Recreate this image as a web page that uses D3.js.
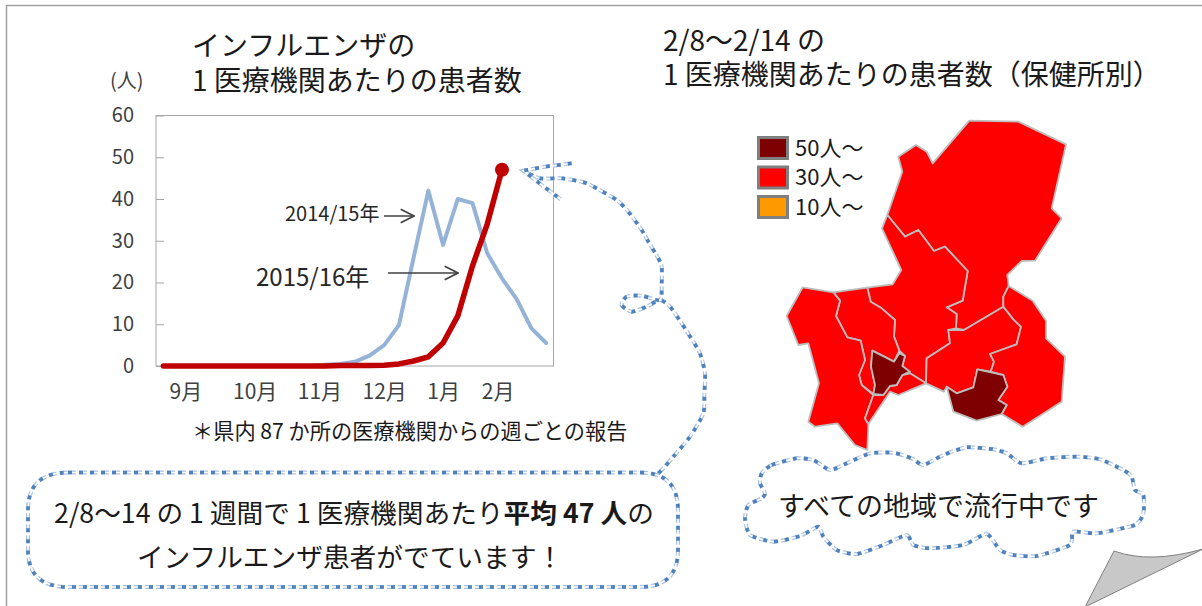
<!DOCTYPE html>
<html>
<head>
<meta charset="utf-8">
<script src="https://cdn.jsdelivr.net/npm/d3@7"></script>
<style>
  html, body { margin: 0; padding: 0; background: #fff; overflow: hidden; }
  text { font-family: "Noto Sans CJK JP", "Noto Sans", sans-serif; }
</style>
</head>
<body>
<svg id="chart" width="1202" height="606"></svg>
<script>
// weekly patients per institution, first week of Sept = 0
const weeks = d3.range(27);
const season1415 = [0, 0, 0, 0, 0, 0, 0, 0, 0, 0, 0, 0.3, 0.5, 1, 2.5, 5, 9.8, 26, 42, 29, 40, 39, 27, 21, 16, 9, 5.5];
const season1516 = [0, 0, 0, 0, 0, 0, 0, 0, 0, 0, 0, 0, 0.1, 0.1, 0.1, 0.2, 0.5, 1.2, 2.2, 5.5, 12, 24, 34, 47];
const yTicks = [0, 10, 20, 30, 40, 50, 60];
const monthLabels = ["9月", "10月", "11月", "12月", "1月", "2月"];
const monthWeeks = [1.5, 6.2, 10.6, 15, 19, 22.7];

const legendLabels = ["50人～", "30人～", "10人～"];
const legendColors = ["#7f0000", "#ff0000", "#ff9900"];

// map outlines, in a local grid
const regions = [
  { level: 1, ring: [[442,315],[487,185],[475,140],[528,105],[560,125],[578,160],[688,32],[835,35],[978,103],[935,295],[965,325],[885,452],[845,453],[802,495],[806,528],[790,560],[790,590],[672,660],[648,655],[650,612],[620,592],[668,572],[683,483],[615,410],[582,423],[535,360],[495,380]] },
  { level: 1, ring: [[442,315],[495,380],[535,360],[582,423],[615,410],[683,483],[668,572],[620,592],[650,612],[648,655],[625,660],[630,700],[560,745],[558,820],[510,790],[487,768],[495,738],[478,722],[462,680],[465,630],[425,595],[392,575],[382,533],[458,523],[484,480],[426,355]] },
  { level: 1, ring: [[280,547],[382,533],[392,575],[425,595],[465,630],[462,680],[478,722],[462,755],[397,722],[393,770],[405,825],[400,852],[365,825],[357,795],[375,750],[362,692],[322,682],[288,618],[300,572]] },
  { level: 1, ring: [[188,532],[280,547],[300,572],[288,618],[322,682],[362,692],[375,750],[357,795],[365,825],[400,855],[375,925],[385,942],[382,1020],[345,1005],[292,940],[225,950],[205,935],[237,820],[205,700],[175,705],[140,618]] },
  { level: 1, ring: [[400,855],[430,855],[450,828],[470,825],[487,795],[510,790],[558,820],[475,855],[450,845],[385,942],[375,925]] },
  { level: 1, ring: [[560,745],[630,700],[625,660],[672,660],[790,590],[820,628],[843,650],[830,703],[750,732],[762,755],[752,785],[712,778],[700,832],[650,850],[620,830],[612,845],[558,820]] },
  { level: 1, ring: [[806,528],[878,572],[918,632],[918,685],[975,740],[965,875],[848,950],[785,912],[800,885],[775,870],[802,830],[790,795],[752,785],[762,755],[750,732],[830,703],[843,650],[820,628],[790,590],[790,560]] },
  { level: 0, ring: [[397,722],[462,755],[478,730],[495,738],[487,768],[510,785],[487,795],[470,825],[450,828],[430,855],[400,852],[405,825],[393,770]] },
  { level: 0, ring: [[712,778],[790,795],[802,830],[775,870],[800,885],[785,912],[710,932],[640,905],[620,830],[650,850],[700,832]] }
];

// hand drawn callout outlines
const cloudOutline = [[95,130],[125,105],[200,85],[250,90],[300,120],[350,100],[420,70],[490,68],[545,85],[580,105],[640,75],[710,52],[790,58],[830,70],[875,100],[950,85],[1040,80],[1110,88],[1180,120],[1205,140],[1215,180],[1240,195],[1240,250],[1215,285],[1100,310],[1030,305],[1020,345],[920,378],[850,375],[810,360],[770,312],[700,345],[600,355],[550,345],[530,315],[460,345],[380,372],[320,360],[280,320],[265,290],[210,318],[130,335],[60,315],[45,265],[55,225],[95,205],[105,190],[90,160]];
const tailOutline = [[475,1000],[490,985],[520,950],[570,890],[610,820],[613,760],[615,700],[600,640],[580,605],[545,550],[510,500],[480,480],[440,500],[395,515],[365,495],[380,470],[425,467],[480,480],[485,430],[485,380],[475,355],[445,305],[425,270],[385,215],[350,180],[295,148],[255,128],[185,115],[120,115],[70,92]];
const tailHead = [[215,70],[135,80],[70,92],[125,135],[185,180]];

const svg = d3.select("#chart");

// outer frame
svg.append("path")
  .attr("d", "M6.5,606 V5.5 H1202")
  .attr("fill", "none")
  .attr("stroke", "#a0a0a0")
  .attr("stroke-width", 1.5);

/* ------------ line chart ------------*/
const x = d3.scaleLinear().domain([-0.5, 26.5]).range([156, 553.5]);
const y = d3.scaleLinear().domain([0, 60]).range([366, 115.5]);

const plot = svg.append("g");
plot.append("rect")
  .attr("x", x(-0.5)).attr("y", y(60))
  .attr("width", x(26.5) - x(-0.5)).attr("height", y(0) - y(60))
  .attr("fill", "#fff").attr("stroke", "#a6a6a6");

const yAxis = d3.axisLeft(y).tickValues(yTicks).tickSize(-8).tickPadding(22);
const gy = svg.append("g").attr("transform", `translate(${x(-0.5)},0)`).call(yAxis);
gy.select(".domain").remove();
gy.selectAll("line").attr("stroke", "#a6a6a6");
gy.selectAll("text").attr("fill", "#404040").style("font-size", "20px");

const xAxis = d3.axisBottom(x).tickValues(monthWeeks)
  .tickFormat((d, i) => monthLabels[i]).tickSize(0).tickPadding(18);
const gx = svg.append("g").attr("transform", `translate(0,${y(0)})`).call(xAxis);
gx.select(".domain").remove();
gx.selectAll("text").attr("fill", "#404040").style("font-size", "21px");

const line = d3.line().x((d, i) => x(weeks[i])).y(d => y(d));

svg.append("path").datum(season1415)
  .attr("d", line).attr("fill", "none")
  .attr("stroke", "#95b3d7").attr("stroke-width", 4)
  .attr("stroke-linecap", "round").attr("stroke-linejoin", "round");
svg.append("path").datum(season1516)
  .attr("d", line).attr("fill", "none")
  .attr("stroke", "#c00000").attr("stroke-width", 5.5)
  .attr("stroke-linecap", "round").attr("stroke-linejoin", "round");
svg.append("circle")
  .attr("cx", x(weeks[season1516.length - 1]))
  .attr("cy", y(season1516[season1516.length - 1]))
  .attr("r", 7).attr("fill", "#c00000");

// series labels with arrows
svg.append("defs").append("marker")
  .attr("id", "open").attr("viewBox", "0 0 12 12").attr("refX", 11).attr("refY", 6)
  .attr("markerWidth", 16).attr("markerHeight", 16).attr("markerUnits", "userSpaceOnUse")
  .attr("orient", "auto")
  .append("path").attr("d", "M1,1 L11,6 L1,11").attr("fill", "none").attr("stroke", "#404040").attr("stroke-width", 1.2);

svg.append("text").attr("x", 285).attr("y", 221).attr("fill", "#262626").style("font-size", "20px").text("2014/15年");
svg.append("line").attr("x1", 384).attr("y1", 216).attr("x2", 414).attr("y2", 216)
  .attr("stroke", "#404040").attr("stroke-width", 1.5).attr("marker-end", "url(#open)");
svg.append("text").attr("x", 256).attr("y", 286).attr("fill", "#262626").style("font-size", "24px").text("2015/16年");
svg.append("line").attr("x1", 388).attr("y1", 273).attr("x2", 458).attr("y2", 273)
  .attr("stroke", "#404040").attr("stroke-width", 1.5).attr("marker-end", "url(#open)");

svg.append("text").attr("x", 110).attr("y", 88).attr("fill", "#404040").style("font-size", "20px").text("(人)");

// titles
const titleLeft = svg.append("text").attr("fill", "#1a1a1a").style("font-size", "28px");
titleLeft.append("tspan").attr("x", 192).attr("y", 56).text("インフルエンザの");
titleLeft.append("tspan").attr("x", 192).attr("y", 91).text("1 医療機関あたりの患者数");
const titleRight = svg.append("text").attr("fill", "#1a1a1a").style("font-size", "28px");
titleRight.append("tspan").attr("x", 663).attr("y", 51).text("2/8～2/14 の");
titleRight.append("tspan").attr("x", 663).attr("y", 85).text("1 医療機関あたりの患者数（保健所別）");

svg.append("text").attr("x", 192).attr("y", 439).attr("fill", "#1a1a1a").style("font-size", "21.2px")
  .text("＊県内 87 か所の医療機関からの週ごとの報告");

/* ------------ map ------------*/
const mapProjection = d3.geoIdentity().scale(1 / 3).translate([740, 110]);
const mapPath = d3.geoPath().projection(mapProjection);
svg.append("g").selectAll("path")
  .data(regions)
  .enter()
  .append("path")
  .attr("d", d => mapPath({ type: "Polygon", coordinates: [d.ring.concat([d.ring[0]])] }))
  .attr("fill", d => legendColors[d.level])
  .attr("stroke", "#bdbdbd")
  .attr("stroke-width", 1.8)
  .attr("stroke-linejoin", "round");

const legendY = d3.scalePoint().domain(legendLabels).range([148, 207]);
const legend = svg.append("g").selectAll("g")
  .data(legendLabels)
  .enter()
  .append("g")
  .attr("transform", d => `translate(757,${legendY(d)})`);
legend.append("rect")
  .attr("x", 1.5).attr("y", -10.5).attr("width", 29).attr("height", 21)
  .attr("fill", (d, i) => legendColors[i])
  .attr("stroke", "#7f7f7f").attr("stroke-width", 3);
legend.append("text")
  .attr("x", 38).attr("y", 7.5).attr("fill", "#1a1a1a")
  .style("font-size", "22px").text(d => d);

/* ------------ callouts ------------*/
// thin light dash under square blue dots
function dotted(parent, d) {
  parent.append("path").attr("d", d).attr("fill", "none")
    .attr("stroke", "#a9c2e2").attr("stroke-width", 4).attr("stroke-dasharray", "8 3");
  parent.append("path").attr("d", d).attr("fill", "none")
    .attr("stroke", "#fff").attr("stroke-width", 1.6);
  parent.append("path").attr("d", d).attr("fill", "none")
    .attr("stroke", "#4f81bd").attr("stroke-width", 3.6).attr("stroke-dasharray", "4 7");
}

const gridA = d3.geoIdentity().scale(1 / 3).translate([500, 140]);
const gridB = d3.geoIdentity().scale(1 / 3).translate([730, 430]);

const callouts = svg.append("g");
dotted(callouts, d3.line().curve(d3.curveCardinal.tension(0.3))(tailOutline.map(gridA)));
dotted(callouts, d3.line()(tailHead.map(gridA)));
dotted(callouts, "M68,472.5 H640 Q678,472.5 678,510 V550 Q678,587 640,587 H68 Q28,587 28,550 V510 Q28,472.5 68,472.5 Z");
dotted(callouts, d3.line().curve(d3.curveCardinalClosed.tension(0.4))(cloudOutline.map(gridB)));

const bubble = svg.append("text").attr("text-anchor", "middle").attr("fill", "#1a1a1a").style("font-size", "26.7px");
const bubble1 = bubble.append("tspan").attr("x", 354).attr("y", 523);
bubble1.append("tspan").text("2/8～14 の 1 週間で 1 医療機関あたり");
bubble1.append("tspan").style("font-weight", "700").text("平均 47 人");
bubble1.append("tspan").text("の");
bubble.append("tspan").attr("x", 350).attr("y", 567).text("インフルエンザ患者がでています！");

svg.append("text").attr("x", 778).attr("y", 516).attr("fill", "#1a1a1a").style("font-size", "27px").text("すべての地域で流行中です");

// folded corner
svg.append("path")
  .attr("d", "M1114,551 Q1150,564 1203,549 L1085,607 Z")
  .attr("fill", "#c8c8c8").attr("stroke", "#7f7f7f").attr("stroke-width", 1);
</script>
</body>
</html>
